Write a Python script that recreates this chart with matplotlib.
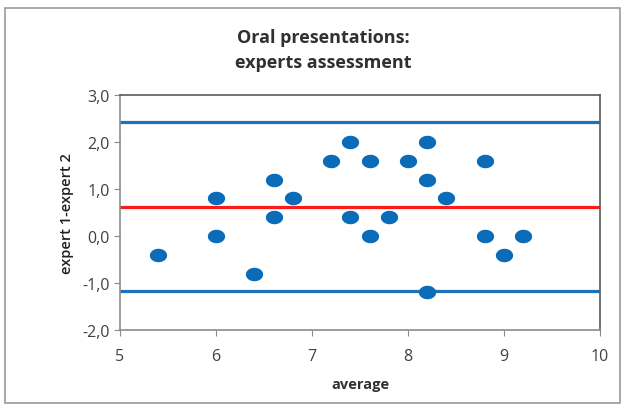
import numpy as np
import matplotlib
matplotlib.use("Agg")
import matplotlib.pyplot as plt
from matplotlib.path import Path
from matplotlib.patches import Rectangle

# Bland-Altman data: average vs difference
avg = [5.4, 6.0, 6.0, 6.4, 6.6, 6.6, 6.8, 7.2, 7.4, 7.4, 7.6,
       7.6, 7.8, 8.0, 8.2, 8.2, 8.2, 8.4, 8.8, 8.8, 9.0, 9.2]
diff = [-0.4, 0.8, 0.0, -0.8, 1.2, 0.4, 0.8, 1.6, 2.0, 0.4, 1.6,
        0.0, 0.4, 1.6, 2.0, 1.2, -1.2, 0.8, 1.6, 0.0, -0.4, 0.0]
mean_diff = 0.62
upper_loa = 2.42
lower_loa = -1.18
yticks = [-2, -1, 0, 1, 2, 3]
xticks = [5, 6, 7, 8, 9, 10]

BLUE = "#1f72b8"; RED = "#ff1a1a"; DOT = "#0a6bb8"; AX = "#8c8c8c"

plt.rcParams["font.family"] = ["Open Sans", "DejaVu Sans"]

fig = plt.figure(figsize=(6.27, 4.06), dpi=100)
fig.patches.append(Rectangle((5 / 627, 1 - 404 / 406), 615 / 627, 395 / 406,
                             transform=fig.transFigure, fill=False,
                             edgecolor="#9a9a9a", lw=1.2))
ax = fig.add_axes([120 / 627, 1 - 331 / 406, 480 / 627, 235 / 406])

th = np.linspace(0, 2 * np.pi, 40)
ell = Path(np.column_stack([np.cos(th), 0.78 * np.sin(th)]))

ax.axhline(upper_loa, color=BLUE, lw=2.3, zorder=2)
ax.axhline(lower_loa, color=BLUE, lw=2.3, zorder=2)
ax.axhline(mean_diff, color=RED, lw=2.3, zorder=2)
ax.scatter(avg, diff, marker=ell, s=155, color=DOT, zorder=3, linewidths=0)

ax.set_xlim(5, 10); ax.set_ylim(-2, 3)
ax.set_xticks(xticks)
ax.set_yticks(yticks)
ax.set_yticklabels([f"{v:.1f}".replace(".", ",") for v in yticks])
ax.tick_params(colors="#404040", labelsize=11.5, length=4, color=AX)
ax.tick_params(axis="x", pad=9)
for s in ax.spines.values():
    s.set_color(AX); s.set_linewidth(1.2)
ax.spines["top"].set_color("#5a5a5a"); ax.spines["right"].set_color("#5a5a5a")

ax.set_xlabel("average", fontsize=10.5, fontweight="bold", color="#303030", labelpad=9)
ax.set_ylabel("expert 1-expert 2", fontsize=10.5, fontweight="semibold",
              color="#202020", labelpad=6)
fig.text(0.515, 0.875, "Oral presentations:\nexperts assessment", ha="center", va="center",
         fontsize=13, fontweight="bold", color="#303030", linespacing=1.5)

plt.savefig("out.png", dpi=100)
